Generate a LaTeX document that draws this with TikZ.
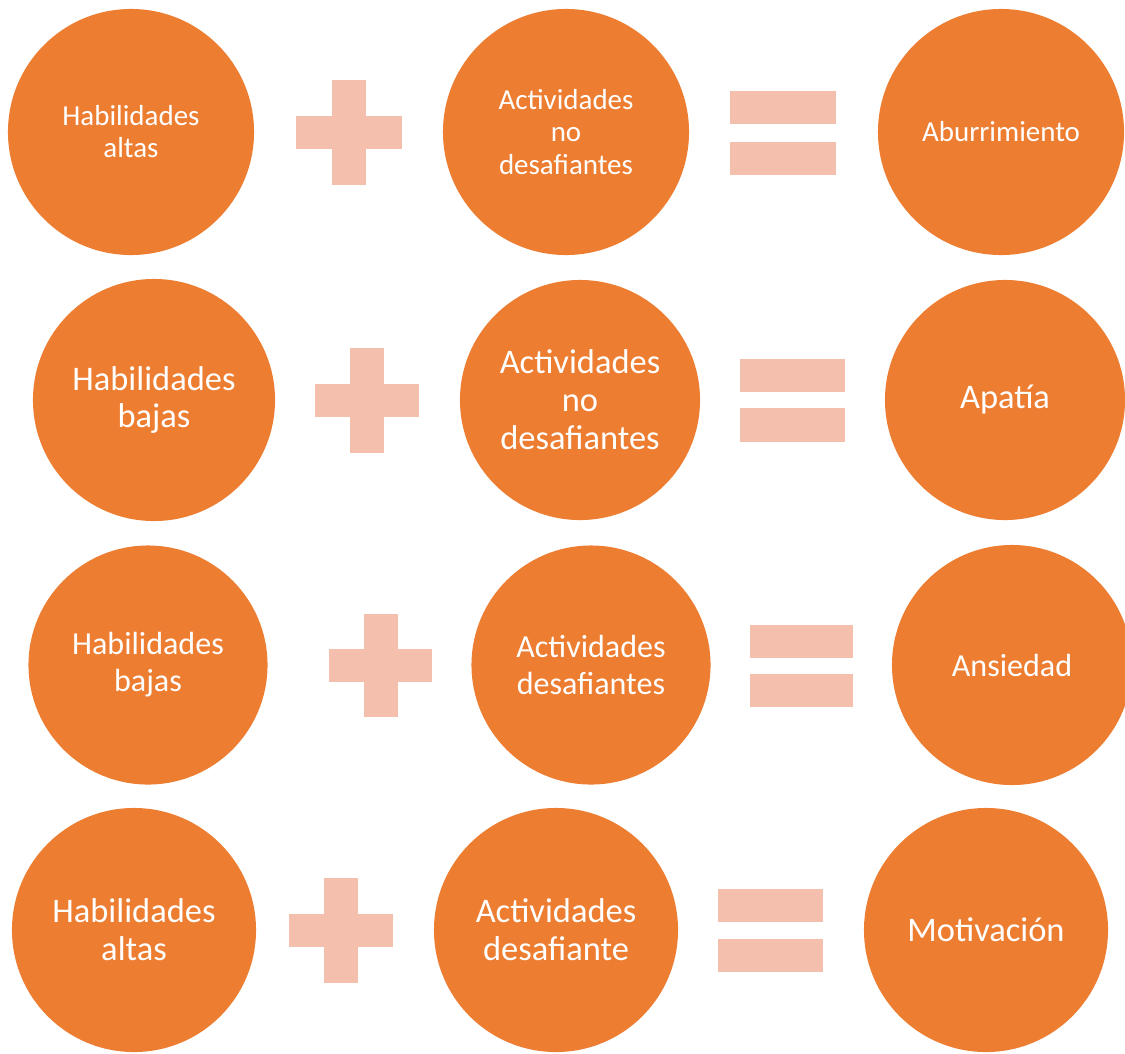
\documentclass[tikz,border=0pt]{standalone}
\usepackage{fontspec}
\setmainfont{Carlito}
\definecolor{ballC}{RGB}{237,125,49}
\definecolor{signC}{RGB}{244,191,172}
\tikzset{ball/.style={circle,fill=ballC,text=white,inner sep=0pt,align=center},
 sign/.style={fill=signC},
 txtA/.style={font=\fontsize{20.6}{22.8}\selectfont},
 txtB/.style={font=\fontsize{24.5}{27}\selectfont},
 txtC/.style={font=\fontsize{22.8}{26.3}\selectfont}}

\begin{document}
\begin{tikzpicture}[x=0.025cm,y=-0.025cm]
\useasboundingbox (0,0) rectangle (1125,1053);
% row 1
\node[ball,txtA,minimum size=6.15cm] (a1) at (131,132) {Habilidades\\altas};
\node[ball,txtA,minimum size=6.15cm] (a2) at (566,132) {Actividades\\no\\desafiantes};
\node[ball,txtA,minimum size=6.15cm] (a3) at (1001,132) {Aburrimiento};
\fill[sign] (296,116) rectangle (402,149);
\fill[sign] (332,80) rectangle (366,185);
\fill[sign] (730,91) rectangle (836,124);
\fill[sign] (730,142) rectangle (836,175);
% row 2
\node[ball,txtB,minimum size=6.05cm] (b1) at (154,400) {Habilidades\\bajas};
\node[ball,txtB,minimum size=6.0cm] (b2) at (580,400) {Actividades\\no\\desafiantes};
\node[ball,txtB,minimum size=6.0cm] (b3) at (1005,400) {Apatía};
\fill[sign] (315,384) rectangle (419,417);
\fill[sign] (350,348) rectangle (384,453);
\fill[sign] (740,359) rectangle (845,392);
\fill[sign] (740,408) rectangle (845,442);
% row 3
\node[ball,txtC,minimum size=5.975cm] (c1) at (148,665) {Habilidades\\bajas};
\node[ball,txtC,minimum size=5.975cm] (c2) at (591,665) {Actividades\\desafiantes};
\node[ball,txtC,minimum size=6.0cm] (c3) at (1012,665) {Ansiedad};
\fill[sign] (329,649) rectangle (432,682);
\fill[sign] (364,614) rectangle (398,717);
\fill[sign] (750,625) rectangle (853,658);
\fill[sign] (750,674) rectangle (853,707);
% row 4
\node[ball,txtB,minimum size=6.1cm] (d1) at (134,930) {Habilidades\\altas};
\node[ball,txtB,minimum size=6.1cm] (d2) at (556,930) {Actividades\\desafiante};
\node[ball,txtB,minimum size=6.1cm] (d3) at (986,930) {Motivación};
\fill[sign] (289,914) rectangle (393,947);
\fill[sign] (324,878) rectangle (358,983);
\fill[sign] (718,889) rectangle (823,922);
\fill[sign] (718,939) rectangle (823,972);
\end{tikzpicture}
\end{document}
